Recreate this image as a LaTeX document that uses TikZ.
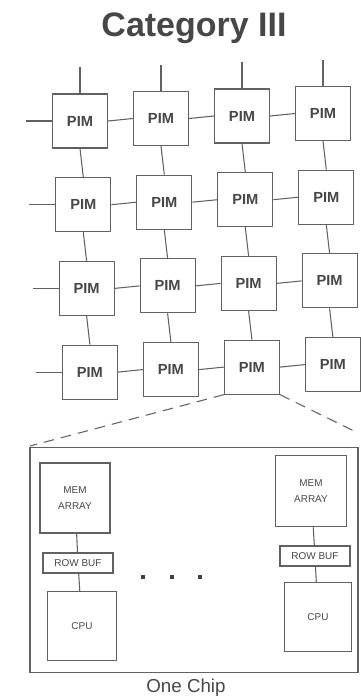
\documentclass[tikz,border=0pt]{standalone}
\usepackage{fontspec}
\setmainfont{Liberation Sans}
\usepackage{tikz}
\usetikzlibrary{calc,positioning}

\begin{document}
\begin{tikzpicture}[x=0.03cm,y=-0.03cm,
  wire/.style={draw=black!62,line width=0.9pt},
  pim/.style={draw=black!62,line width=0.9pt,fill=white,minimum width=1.65cm,minimum height=1.62cm,inner sep=0pt,
    font=\fontsize{12.5}{13}\selectfont\bfseries,text=black!72},
  blk/.style={draw=black!62,line width=0.9pt,fill=white,inner sep=0pt,align=center,
    font=\fontsize{8.5}{14}\selectfont,text=black!72},
  dot/.style={fill=black!75,minimum size=0.13cm,inner sep=0pt}]
\useasboundingbox (0,0) rectangle (360,699);
\node[font=\fontsize{29}{30}\selectfont\bfseries,text=black!72] (title) at (194,28) {Category III};
% the PIM array
\foreach \r in {1,...,4}
  \foreach \c in {1,...,4}
    \node[pim] (p\r\c) at ({80+81*(\c-1)+3.3*(\r-1)},{121+83.7*(\r-1)-2.5*(\c-1)}) {PIM};
\foreach \r in {1,...,4}
  \foreach \c/\cn in {1/2,2/3,3/4}
    \draw[wire] (p\r\c.east) -- (p\r\cn.west);
\foreach \r/\rn in {1/2,2/3,3/4}
  \foreach \c in {1,...,4}
    \draw[wire] (p\r\c.south) -- (p\rn\c.north);
% open ends
\foreach \c in {1,...,4} {
  \coordinate (top\c) at ($(p1\c.north)+(0,-26)$);
  \draw[wire] (p1\c.north) -- (top\c);
}
\foreach \r in {1,...,4} {
  \coordinate (lft\r) at ($(p\r1.west)+(-26,0)$);
  \draw[wire] (p\r1.west) -- (lft\r);
}
% one chip
\node[draw=black!62,line width=0.9pt,minimum width=9.84cm,minimum height=6.75cm] (chip) at (194,560) {};
\coordinate (zl) at (30,446);
\coordinate (zr) at (354,431);
\draw[wire,dash pattern=on 9pt off 6pt] (p43.south west) -- (zl);
\draw[wire,dash pattern=on 9pt off 6pt] (p43.south east) -- (zr);
\node[blk,minimum width=2.1cm,minimum height=2.1cm] (memL) at (75,498) {MEM\\ARRAY};
\node[blk,minimum width=2.1cm,minimum height=0.6cm] (bufL) at (78,563) {ROW BUF};
\node[blk,minimum width=2.05cm,minimum height=2.05cm] (cpuL) at (82,626) {CPU};
\node[blk,minimum width=2.15cm,minimum height=2.15cm] (memR) at (311,491) {MEM\\ARRAY};
\node[blk,minimum width=2.1cm,minimum height=0.6cm] (bufR) at (315,556) {ROW BUF};
\node[blk,minimum width=2.0cm,minimum height=2.07cm] (cpuR) at (318,617) {CPU};
\draw[wire] (memL) -- (bufL);
\draw[wire] (bufL) -- (cpuL);
\draw[wire] (memR) -- (bufR);
\draw[wire] (bufR) -- (cpuR);
\node[dot] (d1) at (143,577) {};
\node[dot] (d2) at (172,577) {};
\node[dot] (d3) at (200,577) {};
\node[font=\fontsize{16}{17}\selectfont,text=black!72] (cap) at (186,688) {One Chip};
\end{tikzpicture}
\end{document}
